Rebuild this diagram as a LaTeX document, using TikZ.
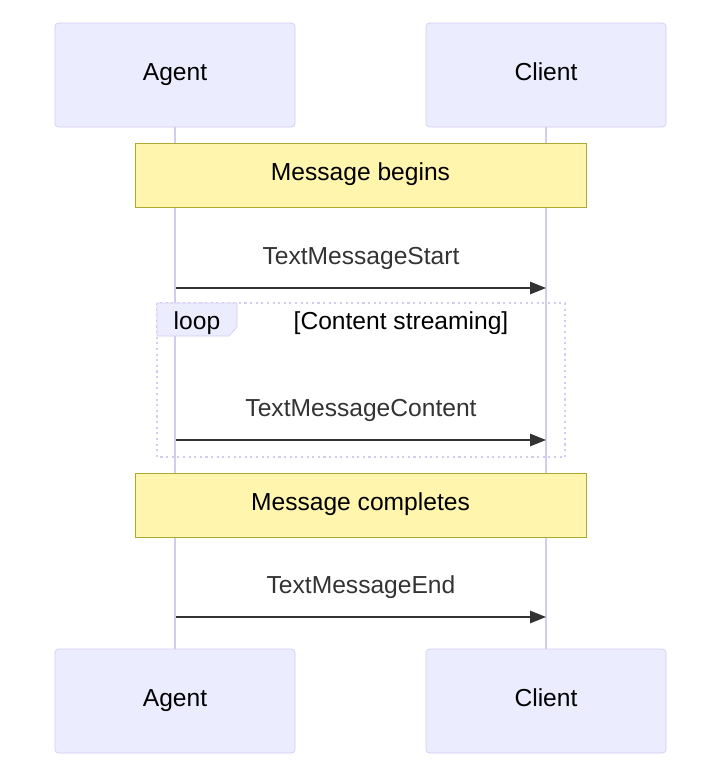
\documentclass[tikz,border=0pt]{standalone}
\usepackage{fontspec}
\setmainfont{Liberation Sans}
\usetikzlibrary{positioning, arrows.meta}
\definecolor{actfill}{HTML}{ECECFF}
\definecolor{actline}{HTML}{D4CCEE}
\definecolor{notefill}{HTML}{FFF5AD}
\definecolor{noteline}{HTML}{AAAA33}
\definecolor{txt}{HTML}{333333}
\begin{document}
\begin{tikzpicture}[x=0.02cm, y=-0.02cm,
 every node/.style={text height=1.5ex, text depth=0.3ex},
 actor/.style={draw=actline, fill=actfill, rounded corners=2pt, minimum width=240*0.02cm, minimum height=104*0.02cm, font=\fontsize{14}{16}\selectfont, text=black},
 note/.style={draw=noteline, fill=notefill, minimum width=451*0.02cm, minimum height=64*0.02cm, font=\fontsize{14}{16}\selectfont, text=black},
 msg/.style={draw=txt, line width=0.9pt, -{Triangle[length=9pt,width=7pt]}},
 la/.style={font=\fontsize{14}{16}\selectfont, text=txt},
 life/.style={draw=actline, line width=0.9pt}
]
\useasboundingbox (0,0) rectangle (720,779);
% actors
\node[actor] (AgentT) at (175,75) {Agent};
\node[actor] (ClientT) at (546,75) {Client};
\node[actor] (AgentB) at (175,701) {Agent};
\node[actor] (ClientB) at (546,701) {Client};
\draw[life] (AgentT.south) -- (AgentB.north);
\draw[life] (ClientT.south) -- (ClientB.north);
% notes
\node[note] (begins) at (360.5,175) {Message begins};
\node[note] (completes) at (360.5,505) {Message completes};
% loop frame
\draw[actline, line width=1.2pt, dotted] (157,303) rectangle (565,457);
\draw[actline, fill=actfill] (157,303) -- (237,303) -- (237,327) -- (229,336) -- (157,336) -- cycle;
\node[la, text=black] (looplbl) at (197,324) {loop};
\node[la, text=black] (cond) at (401,324) {[Content streaming]};
% messages
\coordinate (s1) at (176,288); \coordinate (e1) at (546,288);
\coordinate (s2) at (176,440); \coordinate (e2) at (546,440);
\coordinate (s3) at (176,617); \coordinate (e3) at (546,617);
\draw[msg] (s1) -- (e1) node[la, midway, above=8pt] {TextMessageStart};
\draw[msg] (s2) -- (e2) node[la, midway, above=8pt] {TextMessageContent};
\draw[msg] (s3) -- (e3) node[la, midway, above=8pt] {TextMessageEnd};
\end{tikzpicture}
\end{document}
